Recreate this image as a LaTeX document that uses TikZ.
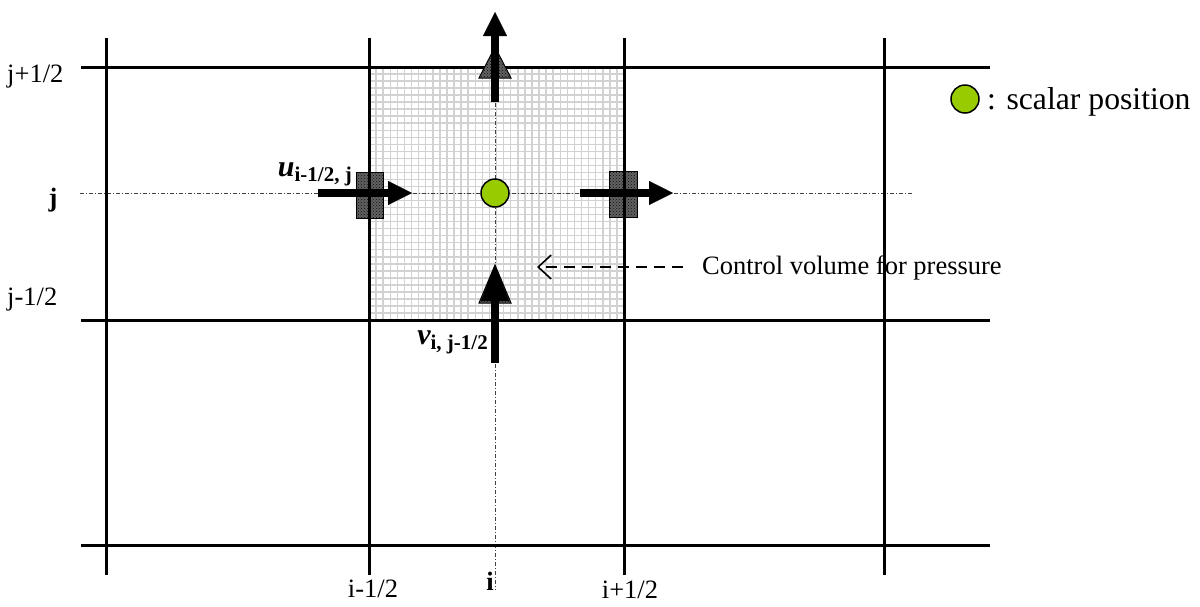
\documentclass[tikz,border=0pt]{standalone}
\usepackage{fontspec}
\setmainfont{Liberation Serif}
\usetikzlibrary{arrows.meta,patterns}
\definecolor{scalargreen}{RGB}{153,204,0}
\tikzset{
  gridline/.style={gray!35, line width=1.5pt},
  meshline/.style={black, line width=3pt},
  centerline/.style={black!75, line width=0.8pt, dash pattern=on 4pt off 2pt on 1pt off 2pt},
  hatchbox/.style={draw=black, line width=1pt, fill=black!62, postaction={pattern=crosshatch dots, pattern color=black!95}},
  bigarrow/.style={line width=8.5pt, -{Triangle[length=24pt,width=24pt,line width=0.1pt]}},
  lbl/.style={inner sep=0pt, font=\fontsize{26.5}{30}\selectfont},
  scalarpt/.style={circle, draw=black, line width=1.5pt, fill=scalargreen, minimum size=28pt, inner sep=0pt}
}
\begin{document}
\begin{tikzpicture}[x=1pt,y=-1pt]
\path[use as bounding box] (0,0) rectangle (1200,606);
% control volume with grid fill
\fill[white] (369,67) rectangle (624,320);
\foreach \k in {0,...,36}{
  \draw[gridline] ({369+\k*255/36},67) -- ({369+\k*255/36},320);
  \draw[gridline] (369,{67+\k*253/36}) -- (624,{67+\k*253/36});
}
% centre lines
\draw[centerline] (80,193) -- (912,193);
\draw[centerline] (495,67) -- (495,590);
% staggered velocity markers
\path[hatchbox] (356,172) rectangle (383,218);
\path[hatchbox] (609,171) rectangle (637,217);
% mesh lines
\foreach \x in {106,369,624,884}{ \draw[meshline] (\x,38) -- (\x,575); }
\foreach \y in {67,320,545}{ \draw[meshline] (81,\y) -- (990,\y); }
% triangles for v
\path[hatchbox] (495,47) -- (479,78) -- (511,78) -- cycle;
\path[hatchbox] (495,265) -- (479,303) -- (511,303) -- cycle;
% velocity arrows
\coordinate (ul0) at (318,193); \coordinate (ul1) at (412,193);
\coordinate (ur0) at (580,193); \coordinate (ur1) at (673,193);
\coordinate (vt0) at (495,102); \coordinate (vt1) at (495,12);
\coordinate (vb0) at (495,363); \coordinate (vb1) at (495,265);
\draw[bigarrow] (ul0) -- (ul1);
\draw[bigarrow] (ur0) -- (ur1);
\draw[bigarrow] (vt0) -- (vt1);
\draw[line width=8pt, -{Triangle[length=36pt,width=28pt,line width=0.1pt]}] (vb0) -- (vb1);
% scalar point
\node[scalarpt] (p) at (495,193) {};
% labels
\node[lbl, anchor=base west] (jp) at (7,82) {j+1/2};
\node[lbl, anchor=base, font=\fontsize{26.5}{30}\selectfont\bfseries] (jc) at (53,206) {j};
\node[lbl, anchor=base west] (jm) at (7,305) {j-1/2};
\node[lbl, anchor=base] (im) at (373,597) {i-1/2};
\node[lbl, anchor=base, font=\fontsize{26.5}{30}\selectfont\bfseries] (ic) at (490,590) {i};
\node[lbl, anchor=base] (ip) at (630,598) {i+1/2};
\node[inner sep=0pt, anchor=base east] (ulab) at (352,176)
  {\fontsize{30}{32}\selectfont\bfseries\itshape u\fontsize{21}{24}\selectfont\upshape\raisebox{-5pt}{i-1/2, j}};
\node[inner sep=0pt, anchor=base east] (vlab) at (488,344)
  {\fontsize{30}{32}\selectfont\bfseries\itshape v\fontsize{21}{24}\selectfont\upshape\raisebox{-5pt}{i, j-1/2}};
% control volume note
\node[lbl, anchor=base west] (cv) at (702,274) {Control volume for pressure};
\coordinate (cvs) at (683,267);
\coordinate (cvt) at (537,267);
\draw[line width=1.6pt, dash pattern=on 11pt off 7pt, -{Straight Barb[length=13pt,width=24pt]}] (cvs) -- (cvt);
% legend
\node[scalarpt] (leg) at (965,99) {};
\node[inner sep=0pt, anchor=base west, font=\fontsize{31.7}{34}\selectfont] (legtxt) at (987,109) {: scalar position};
\end{tikzpicture}
\end{document}
